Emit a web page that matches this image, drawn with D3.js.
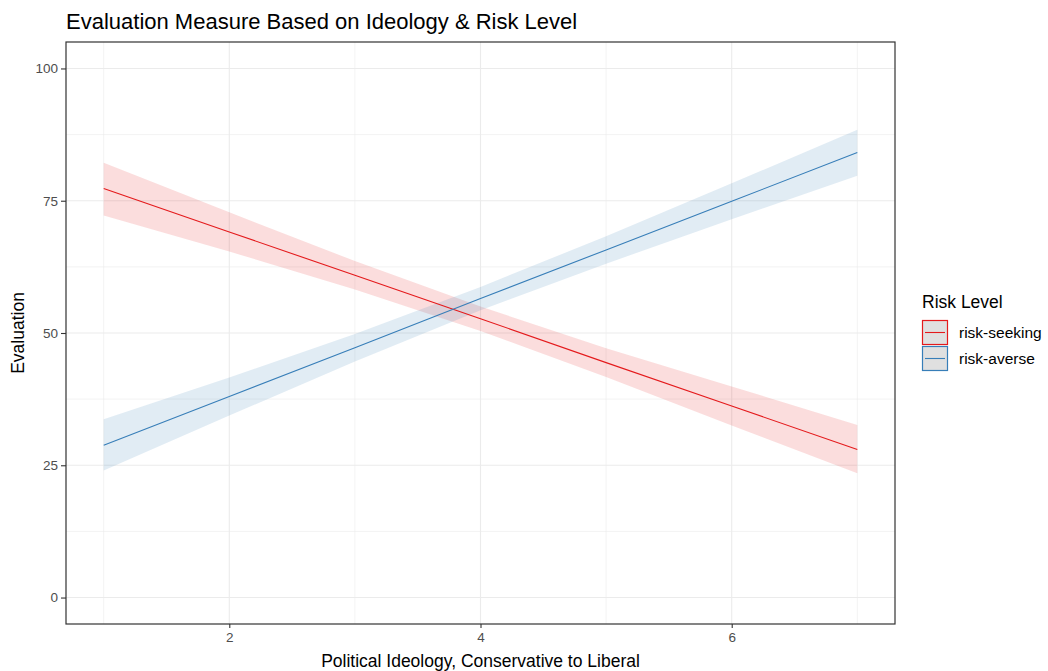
<!DOCTYPE html>
<html>
<head>
<meta charset="utf-8">
<script src="https://cdn.jsdelivr.net/npm/d3@7"></script>
<style>
  body { margin: 0; background: #fff; }
  text { font-family: "Liberation Sans", Arial, sans-serif; }
</style>
</head>
<body>
<div id="vis"></div>
<script>
// ideology values where the fitted lines were read
var ideology = [1, 2, 3, 4, 5, 6, 7];

// risk-seeking fit and confidence band
var seekFit   = [77.3, 69.1, 60.9, 52.7, 44.4, 36.2, 28.0];
var seekUpper = [82.2, 72.8, 63.6, 55.0, 47.1, 39.9, 32.6];
var seekLower = [72.2, 65.4, 58.2, 50.4, 41.7, 32.5, 23.5];

// risk-averse fit and confidence band
var averseFit   = [28.8, 38.0, 47.2, 56.5, 65.7, 74.9, 84.1];
var averseUpper = [33.7, 41.6, 49.8, 58.7, 68.3, 78.3, 88.4];
var averseLower = [24.0, 34.4, 44.6, 54.3, 63.1, 71.5, 79.7];

var levels = ["risk-seeking", "risk-averse"];
var xTicks = [2, 4, 6];
var yTicks = [0, 25, 50, 75, 100];
var xMinor = [1, 3, 5, 7];
var yMinor = [12.5, 37.5, 62.5, 87.5];

var width = 1048, height = 671;
var panel = { left: 66, top: 42, right: 895, bottom: 624 };

var svg = d3.select("#vis").append("svg")
    .attr("width", width)
    .attr("height", height);

var x = d3.scaleLinear().domain([0.7, 7.3]).range([panel.left, panel.right]);
var y = d3.scaleLinear().domain([-5, 105]).range([panel.bottom, panel.top]);

var colour = d3.scaleOrdinal().domain(levels).range(["#e41a1c", "#377eb8"]);

// grid
var grid = svg.append("g");
grid.selectAll(".ymin").data(yMinor).enter().append("line")
    .attr("x1", panel.left).attr("x2", panel.right)
    .attr("y1", d => y(d)).attr("y2", d => y(d))
    .attr("stroke", "#ebebeb").attr("stroke-width", 0.6);
grid.selectAll(".xmin").data(xMinor).enter().append("line")
    .attr("y1", panel.top).attr("y2", panel.bottom)
    .attr("x1", d => x(d)).attr("x2", d => x(d))
    .attr("stroke", "#ebebeb").attr("stroke-width", 0.6);
grid.selectAll(".ymaj").data(yTicks).enter().append("line")
    .attr("x1", panel.left).attr("x2", panel.right)
    .attr("y1", d => y(d)).attr("y2", d => y(d))
    .attr("stroke", "#ebebeb").attr("stroke-width", 1.1);
grid.selectAll(".xmaj").data(xTicks).enter().append("line")
    .attr("y1", panel.top).attr("y2", panel.bottom)
    .attr("x1", d => x(d)).attr("x2", d => x(d))
    .attr("stroke", "#ebebeb").attr("stroke-width", 1.1);

var series = [
    { name: "risk-seeking", fit: seekFit, upper: seekUpper, lower: seekLower },
    { name: "risk-averse", fit: averseFit, upper: averseUpper, lower: averseLower }
];

var area = d3.area()
    .x((d, i) => x(ideology[i]))
    .y0(d => y(d[0]))
    .y1(d => y(d[1]));

var line = d3.line()
    .x((d, i) => x(ideology[i]))
    .y(d => y(d));

series.forEach(function(s) {
    var band = s.lower.map((v, i) => [v, s.upper[i]]);
    svg.append("path")
        .attr("d", area(band))
        .attr("fill", colour(s.name))
        .attr("fill-opacity", 0.15);
});
series.forEach(function(s) {
    svg.append("path")
        .attr("d", line(s.fit))
        .attr("fill", "none")
        .attr("stroke", colour(s.name))
        .attr("stroke-width", 1.1);
});

// panel border
svg.append("rect")
    .attr("x", panel.left).attr("y", panel.top)
    .attr("width", panel.right - panel.left)
    .attr("height", panel.bottom - panel.top)
    .attr("fill", "none").attr("stroke", "#333333").attr("stroke-width", 1.2);

// axes
var xAxis = svg.append("g")
    .attr("transform", "translate(0," + panel.bottom + ")")
    .call(d3.axisBottom(x).tickValues(xTicks).tickFormat(d3.format("d")).tickSize(4).tickPadding(4));
var yAxis = svg.append("g")
    .attr("transform", "translate(" + panel.left + ",0)")
    .call(d3.axisLeft(y).tickValues(yTicks).tickFormat(d3.format("d")).tickSize(5).tickPadding(3));
[xAxis, yAxis].forEach(function(a) {
    a.select(".domain").remove();
    a.selectAll(".tick line").attr("stroke", "#333333").attr("stroke-width", 1.1);
    a.selectAll(".tick text")
        .attr("fill", "#4d4d4d")
        .style("font-size", "13.5px")
        .style("font-family", "'Liberation Sans', Arial, sans-serif");
});

// titles
svg.append("text")
    .attr("x", 66).attr("y", 29)
    .attr("font-size", 22)
    .attr("fill", "#000")
    .text("Evaluation Measure Based on Ideology & Risk Level");

svg.append("text")
    .attr("x", (panel.left + panel.right) / 2).attr("y", 667)
    .attr("text-anchor", "middle")
    .attr("font-size", 17.5)
    .attr("fill", "#000")
    .text("Political Ideology, Conservative to Liberal");

svg.append("text")
    .attr("transform", "translate(24," + ((panel.top + panel.bottom) / 2) + ") rotate(-90)")
    .attr("text-anchor", "middle")
    .attr("font-size", 17.5)
    .attr("fill", "#000")
    .text("Evaluation");

// legend
var legend = svg.append("g").attr("transform", "translate(922,0)");
legend.append("text")
    .attr("x", 0).attr("y", 308)
    .attr("font-size", 17.5)
    .attr("fill", "#000")
    .text("Risk Level");

var keys = legend.selectAll(".key").data(levels).enter().append("g")
    .attr("transform", (d, i) => "translate(0," + (320 + i * 26) + ")");
keys.append("rect")
    .attr("x", 0.5).attr("y", 0.5)
    .attr("width", 25).attr("height", 24)
    .attr("fill", "#e0e0e0")
    .attr("stroke", d => colour(d))
    .attr("stroke-width", 1.2);
keys.append("line")
    .attr("x1", 3).attr("x2", 23)
    .attr("y1", 12.5).attr("y2", 12.5)
    .attr("stroke", d => colour(d))
    .attr("stroke-width", 1.1);
keys.append("text")
    .attr("x", 37).attr("y", 18)
    .attr("font-size", 15.5)
    .attr("fill", "#000")
    .text(d => d);
</script>
</body>
</html>
